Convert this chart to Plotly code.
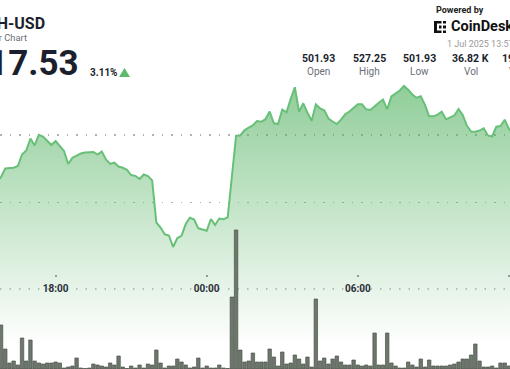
import pandas as pd
import plotly.graph_objects as go

# ---------------- data ----------------
price_start = "2025-06-30 15:40"
price_values = [
    # 15:40 - 15:50
    513.06, 513.80,
    # 16:00 - 16:50
    515.05, 515.05, 515.16, 515.42, 517.12, 517.71,
    # 17:00 - 17:50
    519.48, 518.45, 520.03, 519.78, 519.19, 518.52,
    # 18:00 - 18:50
    519.11, 518.38, 517.64, 515.72, 516.63, 516.97,
    # 19:00 - 19:50
    517.27, 517.42, 517.42, 517.49, 517.12, 517.56,
    # 20:00 - 20:50
    516.38, 515.72, 515.91, 515.35, 515.16, 514.86,
    # 21:00 - 21:50
    514.09, 513.97, 513.50, 514.17, 513.94, 513.28,
    # 22:00 - 22:50
    507.08, 506.34, 505.33, 505.16, 503.46, 504.79,
    # 23:00 - 23:50
    505.11, 506.85, 507.78, 507.52, 506.22, 506.09,
    # 00:00 - 00:50
    505.86, 507.59, 506.71, 507.67, 507.55, 507.84,
    # 01:00 - 01:50
    513.84, 519.90, 519.93, 520.69, 521.11, 521.43,
    # 02:00 - 02:50
    522.07, 521.96, 522.33, 523.47, 521.73, 521.62,
    # 03:00 - 03:50
    523.77, 523.35, 525.32, 527.05, 523.44, 524.68,
    # 04:00 - 04:50
    523.29, 522.11, 524.53, 523.94, 523.66, 522.44,
    # 05:00 - 05:50
    521.99, 521.62, 522.26, 523.06, 523.47, 523.99,
    # 06:00 - 06:50
    524.53, 524.53, 523.80, 523.69, 524.28, 524.76,
    # 07:00 - 07:50
    525.24, 523.80, 525.69, 526.09, 526.57, 527.25,
    # 08:00 - 08:50
    526.69, 525.98, 525.51, 525.72, 524.46, 522.76,
    # 09:00 - 09:50
    522.76, 523.01, 523.44, 522.32, 522.56, 522.88,
    # 10:00 - 10:50
    523.84, 522.95, 521.36, 520.52, 520.49, 520.66,
    # 11:00 - 11:50
    521.00, 519.93, 519.78, 521.23, 521.33, 522.26,
    # 12:00 - 12:10
    520.89, 520.30,
]

volume_start = "2025-06-30 15:50"
volume_values = [
    880, 400, 120, 160, 80, 620, 160, 580, 160, 120, 100, 120, 120, 140, 120,
    20, 40, 60, 220, 20, 10, 20, 100, 80, 60, 40, 120, 80, 260, 40,
    10, 60, 20, 80, 20, 100, 80, 380, 120, 20, 60, 60, 200, 140, 80,
    20, 40, 220, 20, 60, 20, 20, 80, 20, 10, 1440, 2780, 380, 140, 160,
    320, 140, 140, 140, 400, 240, 60, 340, 100, 120, 280, 200, 100, 240, 40,
    1400, 160, 220, 100, 200, 260, 140, 80, 80, 180, 80, 60, 80, 60, 720,
    80, 80, 720, 120, 60, 20, 20, 140, 80, 40, 200, 40, 180, 60, 60,
    60, 60, 80, 100, 140, 200, 200, 280, 500, 160, 40, 40, 60, 20, 120,
    120, 60,
]

tick_times = ["2025-06-30 18:00", "2025-07-01 00:00", "2025-07-01 06:00", "2025-07-01 12:00"]
tick_labels = ["18:00", "00:00", "06:00", "12:00"]

grid_prices = [510, 520]

stat_values = ["501.93", "527.25", "501.93", "36.82 K", "19.02 M"]
stat_labels = ["Open", "High", "Low", "Vol", "Value"]

symbol = "BCH-USD"
subtitle = "24 Hour Chart"
last_price = "517.53"
change_pct = "3.11%"
timestamp = "1 Jul 2025 13:57"

price_times = pd.date_range(price_start, periods=len(price_values), freq="10min")
volume_times = pd.date_range(volume_start, periods=len(volume_values), freq="10min")

# ---------------- figure ----------------
W, H = 510, 369
FONT = "Roboto"

def py(ypx):
    return 1 - ypx / H

def px(xpx):
    return xpx / W

fig = go.Figure()

fig.add_trace(go.Scatter(
    x=price_times, y=price_values, mode="lines",
    line=dict(color="rgb(104,192,120)", width=2),
    fill="tozeroy",
    fillgradient=dict(
        type="vertical",
        start=489.0, stop=527.5,
        colorscale=[[0, "rgba(76,175,90,0)"], [1, "rgba(76,175,90,0.62)"]],
    ),
    hoverinfo="skip", showlegend=False,
))

fig.add_trace(go.Bar(
    x=volume_times, y=volume_values, yaxis="y2",
    marker=dict(color="#6e776c", line=dict(color="#4b534a", width=0.7)),
    hoverinfo="skip", showlegend=False,
))

fig.update_layout(
    width=W, height=H, autosize=False,
    margin=dict(l=0, r=0, t=0, b=0),
    paper_bgcolor="white", plot_bgcolor="white",
    bargap=0.18,
    xaxis=dict(
        range=["2025-06-30 15:47:30", "2025-07-01 12:02:36"],
        tickvals=tick_times,
        ticktext=["<b>%s</b>" % t for t in tick_labels],
        tickfont=dict(family=FONT, size=10, color="#2b2f3a"),
        ticks="outside", ticklen=2, tickwidth=2, tickcolor="#9a9a9a",
        showgrid=False, showline=False, zeroline=False,
        anchor="free", position=py(274),
        ticklabelstandoff=3,
    ),
    yaxis=dict(
        range=[485.44, 539.94],
        tickvals=grid_prices, showticklabels=False,
        showgrid=True, gridcolor="#b0b0b0", gridwidth=1.5, griddash="1.5px,8px",
        zeroline=False, showline=False,
    ),
    yaxis2=dict(
        overlaying="y", range=[0, 7380], visible=False, showgrid=False,
    ),
    font=dict(family=FONT),
)

# dotted axis line behind time labels
fig.add_shape(type="line", xref="paper", yref="paper", x0=0, x1=1, y0=py(289), y1=py(289),
              line=dict(color="#b0b0b0", width=1.5, dash="1.5px,8px"), layer="below")

ann = []
dark = "#1b1f2e"
grey = "#6b6f78"
ann.append(dict(text="<b>%s</b>" % symbol, x=px(46.5), y=py(23), xanchor="right", yanchor="middle",
                font=dict(size=16, color=dark)))
ann.append(dict(text=subtitle, x=px(28.5), y=py(37.5), xanchor="right", yanchor="middle",
                font=dict(size=9.3, color=grey)))
ann.append(dict(text="<b>%s</b>" % last_price, x=px(80.5), y=py(63.5), xanchor="right", yanchor="middle",
                font=dict(size=35, color=dark)))
ann.append(dict(text="<b>%s</b>" % change_pct, x=px(87.5), y=py(72.5), xanchor="left", yanchor="middle",
                font=dict(size=10, color=dark)))
ann.append(dict(text="<b>Powered by</b>", x=px(433.5), y=py(10), xanchor="left", yanchor="middle",
                font=dict(size=9, color="#222")))
ann.append(dict(text="<b>CoinDesk</b>", x=px(449), y=py(27), xanchor="left", yanchor="middle",
                font=dict(size=14.5, color="#111")))
ann.append(dict(text=timestamp, x=px(444.5), y=py(44), xanchor="left", yanchor="middle",
                font=dict(size=9, color="#9a9a9a")))
stat_x = [318.8, 369.2, 419.8, 470.5, 521.5]
for sx, v, l in zip(stat_x, stat_values, stat_labels):
    ann.append(dict(text="<b>%s</b>" % v, x=px(sx), y=py(59), xanchor="center", yanchor="middle",
                    font=dict(size=10.5, color=dark)))
    ann.append(dict(text=l, x=px(sx), y=py(71.5), xanchor="center", yanchor="middle",
                    font=dict(size=10, color=grey)))
for a in ann:
    a.update(xref="paper", yref="paper", showarrow=False)
    a["font"]["family"] = FONT
fig.update_layout(annotations=ann)

# up triangle
fig.add_shape(type="path", xref="paper", yref="paper",
              path="M %f %f L %f %f L %f %f Z" % (px(119), py(77), px(130), py(77), px(124.5), py(68)),
              fillcolor="#5cba6a", line=dict(width=0))

# CoinDesk logo mark
def rect(x0, y0, x1, y1):
    fig.add_shape(type="rect", xref="paper", yref="paper",
                  x0=px(x0), x1=px(x1), y0=py(y1), y1=py(y0),
                  fillcolor="#111", line=dict(width=0))
rect(434, 21, 437, 33)
rect(434, 21, 441.5, 23.5)
rect(434, 30.5, 441.5, 33)
rect(443, 21, 446, 23.5)
rect(443, 30.5, 446, 33)
rect(439, 25.5, 441.5, 28.5)
rect(443, 25.5, 446, 28.5)

fig.write_html(
    "out.html",
    config={"displayModeBar": False, "staticPlot": True},
    post_script="document.body.style.margin='0';document.body.style.overflow='hidden';",
)
